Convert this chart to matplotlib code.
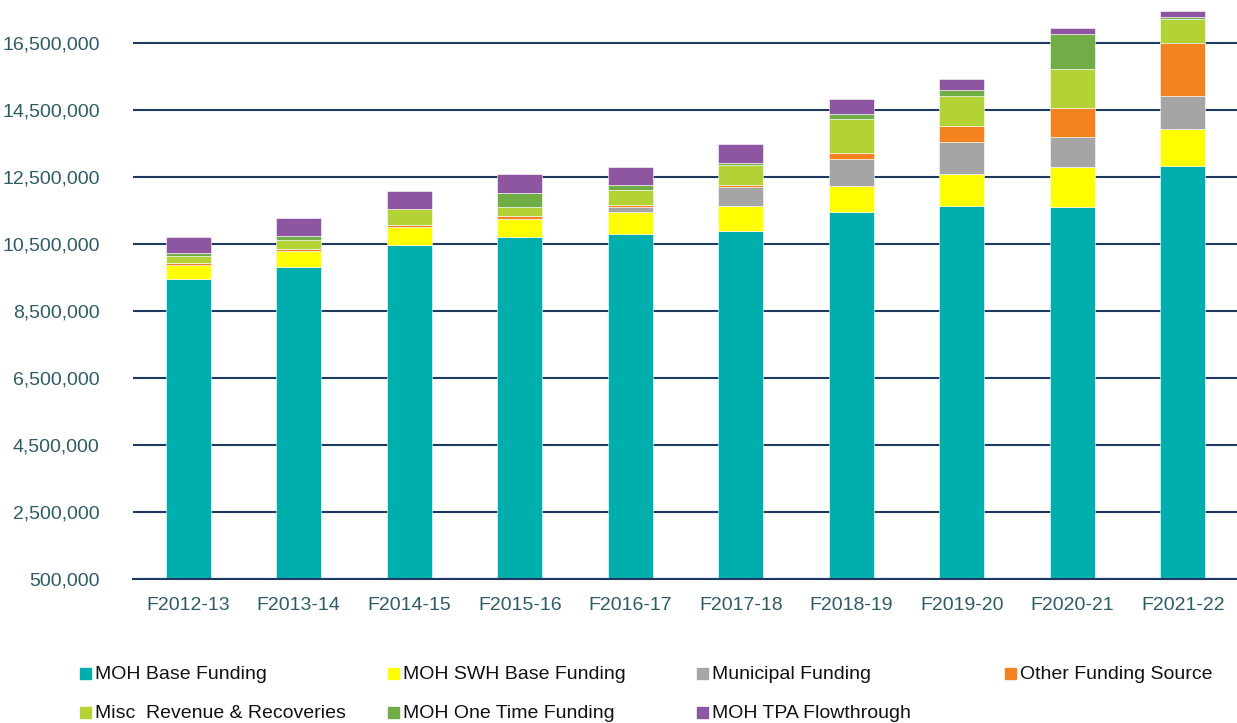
import matplotlib
matplotlib.use("Agg")
import matplotlib.pyplot as plt
import numpy as np
from matplotlib.patches import Rectangle

# --- Chart data ---
years = ["F2012-13", "F2013-14", "F2014-15", "F2015-16", "F2016-17",
         "F2017-18", "F2018-19", "F2019-20", "F2020-21", "F2021-22"]

moh_base = [9455000, 9813000, 10461000, 10709000, 10799000,
            10897000, 11446000, 11634000, 11605000, 12820000]
moh_swh_base = [418000, 478000, 547000, 537000, 648000,
                737000, 785000, 964000, 1203000, 1104000]
municipal = [0, 0, 0, 0, 158000, 558000, 797000, 946000, 875000, 1003000]
other_source = [69000, 60000, 70000, 80000, 51000,
                78000, 188000, 487000, 875000, 1564000]
misc_revenue = [200000, 269000, 458000, 287000, 466000,
                588000, 1015000, 887000, 1176000, 734000]
moh_one_time = [99000, 128000, 15000, 418000, 131000,
                60000, 140000, 170000, 1024000, 60000]
moh_tpa = [478000, 528000, 537000, 549000, 546000,
           567000, 466000, 337000, 200000, 179000]

series_names = ["MOH Base Funding", "MOH SWH Base Funding", "Municipal Funding",
                "Other Funding Source", "Misc  Revenue & Recoveries",
                "MOH One Time Funding", "MOH TPA Flowthrough"]

y_ticks = [500000, 2500000, 4500000, 6500000, 8500000,
           10500000, 12500000, 14500000, 16500000]

# --- Styling ---
COLORS = ["#00AFAD", "#FFFF00", "#A5A5A5", "#F58220",
          "#B3D235", "#70AD47", "#8E55A0"]
LABEL_COLOR = "#2E5C66"
GRID_COLOR = "#1F3A60"

plt.rcParams["font.family"] = ["Liberation Sans", "DejaVu Sans"]


def draw_chart():
    fig = plt.figure(figsize=(12.37, 7.23), dpi=100)
    ax = fig.add_axes([133 / 1237, 1 - 579 / 723, 1105 / 1237, 579 / 723])

    x = np.arange(len(years))
    stacks = [moh_base, moh_swh_base, municipal, other_source,
              misc_revenue, moh_one_time, moh_tpa]

    # Stack every funding source on top of the previous ones
    bottom = np.zeros(len(years))
    for values, color in zip(stacks, COLORS):
        vals = np.array(values, dtype=float)
        ax.bar(x, vals, bottom=bottom, width=0.41, color=color,
               edgecolor="white", linewidth=0.4, zorder=3)
        bottom += vals

    ax.set_xlim(-0.5, len(years) - 0.5)
    ax.set_ylim(500000, 17783000)
    ax.set_yticks(y_ticks)
    ax.set_yticklabels([f"{v:,}" for v in y_ticks])
    ax.set_xticks(x)
    ax.set_xticklabels(years)

    ax.tick_params(axis="both", length=0, labelsize=14, labelcolor=LABEL_COLOR)
    ax.tick_params(axis="y", pad=24)
    ax.tick_params(axis="x", pad=13)

    ax.grid(axis="y", color=GRID_COLOR, linewidth=1.5, zorder=0)
    # The lowest gridline sits on the axis edge; draw it unclipped so it keeps full width
    ax.axhline(y_ticks[0], color=GRID_COLOR, linewidth=1.5, zorder=4, clip_on=False)
    for side in ["top", "right", "left", "bottom"]:
        ax.spines[side].set_visible(False)

    # Excel-style legend laid out in fixed-width columns
    col_x = [80, 388, 697, 1005]
    row_y = [673, 712]
    order = [(0, 0), (0, 1), (0, 2), (0, 3), (1, 0), (1, 1), (1, 2)]
    for name, color, (r, c) in zip(series_names, COLORS, order):
        mx = col_x[c] / 1237
        my = 1 - row_y[r] / 723
        fig.patches.append(Rectangle((mx, my - 5.5 / 723), 11 / 1237, 11 / 723,
                                     transform=fig.transFigure, color=color))
        fig.text(mx + 15 / 1237, my - 1.5 / 723, name, fontsize=14, color="#111111",
                 va="center", ha="left")

    fig.savefig("out.png", dpi=100)


if __name__ == "__main__":
    draw_chart()
